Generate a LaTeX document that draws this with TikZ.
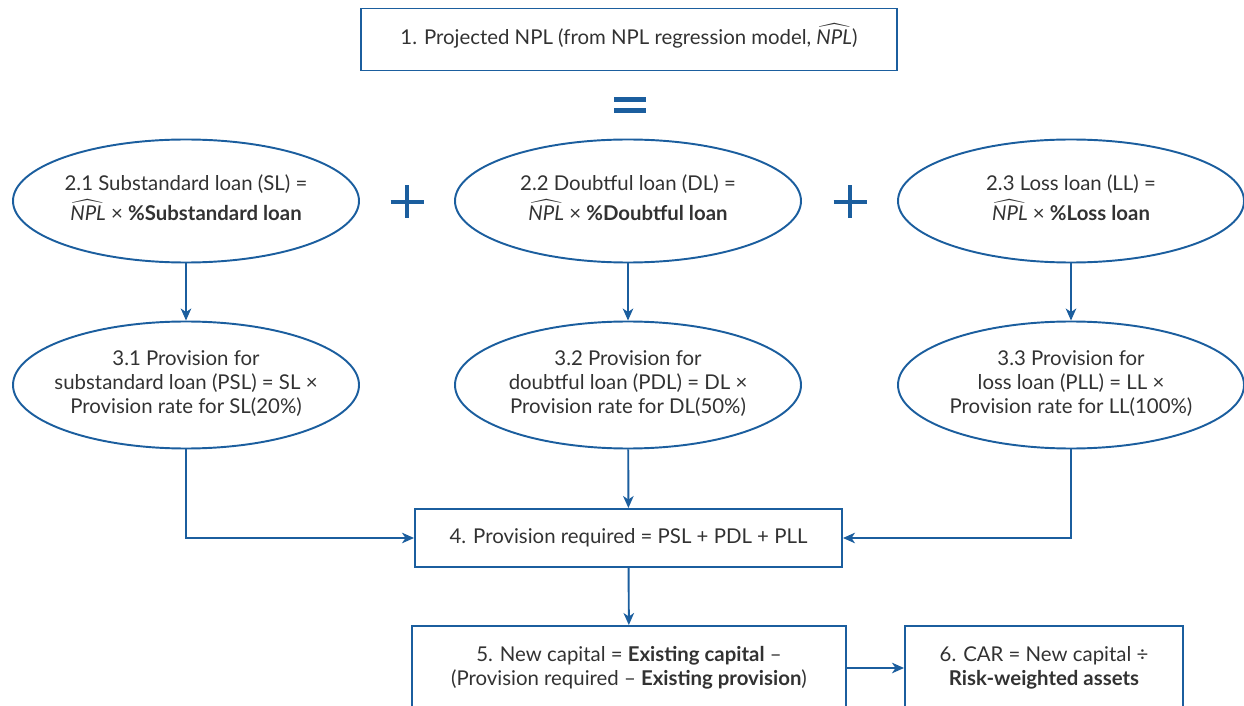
\documentclass[tikz,border=0pt]{standalone}
\usepackage{amsmath}
\usepackage{fontspec}
\setmainfont{Lato}
\usepackage{tikz}
\usetikzlibrary{arrows.meta,shapes.geometric}
\definecolor{flowblue}{RGB}{27,94,158}
\definecolor{flowtext}{RGB}{50,50,50}
\newcommand{\npl}{$\widehat{\text{\itshape NPL}}$}
\newcommand{\ovltext}[1]{\raisebox{-2pt}{\makebox[0pt]{\begin{tabular}{@{}c@{}}#1\end{tabular}}}}

\begin{document}
\begin{tikzpicture}
\useasboundingbox (0,0) rectangle (24.88,-14.12);
\clip (0,0) rectangle (24.88,-14.12);
\begin{scope}[every node/.style={rectangle,draw=flowblue,line width=1.1pt,text=flowtext,
              font=\fontsize{11.6}{13.7}\selectfont,align=center,inner sep=0pt}]
    \node[minimum width=10.72cm,minimum height=1.24cm,text height=8.5pt,text depth=2.5pt] (b1) at (12.58,-0.79)
        {1. Projected NPL (from NPL regression model, \npl)};
    \node[minimum width=8.54cm,minimum height=1.16cm] (b4) at (12.57,-10.76)
        {4. Provision required = PSL + PDL + PLL};
    \node[minimum width=8.68cm,minimum height=1.68cm] (b5) at (12.58,-13.36)
        {5. New capital = \textbf{Existing capital} --\\
         (Provision required -- \textbf{Existing provision})};
    \node[minimum width=5.56cm,minimum height=1.68cm] (b6) at (20.88,-13.36)
        {6. CAR = New capital ÷\\ \textbf{Risk-weighted assets}};
\end{scope}

\begin{scope}[every node/.style={ellipse,draw=flowblue,line width=1.1pt,text=flowtext,
              font=\fontsize{11.6}{13.7}\selectfont,inner sep=0pt,
              minimum width=6.92cm}]
    \node[minimum height=2.46cm] (e21) at (3.72,-4.02)
        {\ovltext{2.1 Substandard loan (SL) =\\[1pt] \npl\ × \textbf{\%Substandard loan}}};
    \node[minimum height=2.46cm] (e22) at (12.56,-4.02)
        {\ovltext{2.2 Doubtful loan (DL) =\\[1pt] \npl\ × \textbf{\%Doubtful loan}}};
    \node[minimum height=2.46cm] (e23) at (21.42,-4.02)
        {\ovltext{2.3 Loss loan (LL) =\\[1pt] \npl\ × \textbf{\%Loss loan}}};
    \node[minimum height=2.54cm] (e31) at (3.72,-7.7)
        {\ovltext{3.1 Provision for\\ substandard loan (PSL) = SL ×\\ Provision rate for SL(20\%)}};
    \node[minimum height=2.54cm] (e32) at (12.56,-7.7)
        {\ovltext{3.2 Provision for\\ doubtful loan (PDL) = DL ×\\ Provision rate for DL(50\%)}};
    \node[minimum height=2.54cm] (e33) at (21.42,-7.7)
        {\ovltext{3.3 Provision for\\ loss loan (PLL) = LL ×\\ Provision rate for LL(100\%)}};
\end{scope}

% equals and plus signs
\begin{scope}[draw=flowblue,line width=2.3pt]
    \draw (12.28,-1.99) -- (12.92,-1.99);
    \draw (12.28,-2.21) -- (12.92,-2.21);
    \foreach \px in {8.14,17.0} {
        \draw (\px-0.33,-4.04) -- (\px+0.33,-4.04);
        \draw (\px,-3.71) -- (\px,-4.37);
    }
\end{scope}

\begin{scope}[>={Stealth[length=0.24cm,width=0.21cm,inset=0.07cm]},
              every edge/.style={draw=flowblue,line width=1.1pt}]
    \path [->] (e21) edge (e31);
    \path [->] (e22) edge (e32);
    \path [->] (e23) edge (e33);
    \path [->] (e32) edge (b4);
    \path [->] (b4) edge (b5);
    \path [->] (b5) edge (b6);
    \draw [->,flowblue,line width=1.1pt] (e31.south) |- (b4.west);
    \draw [->,flowblue,line width=1.1pt] (e33.south) |- (b4.east);
\end{scope}
\end{tikzpicture}
\end{document}
